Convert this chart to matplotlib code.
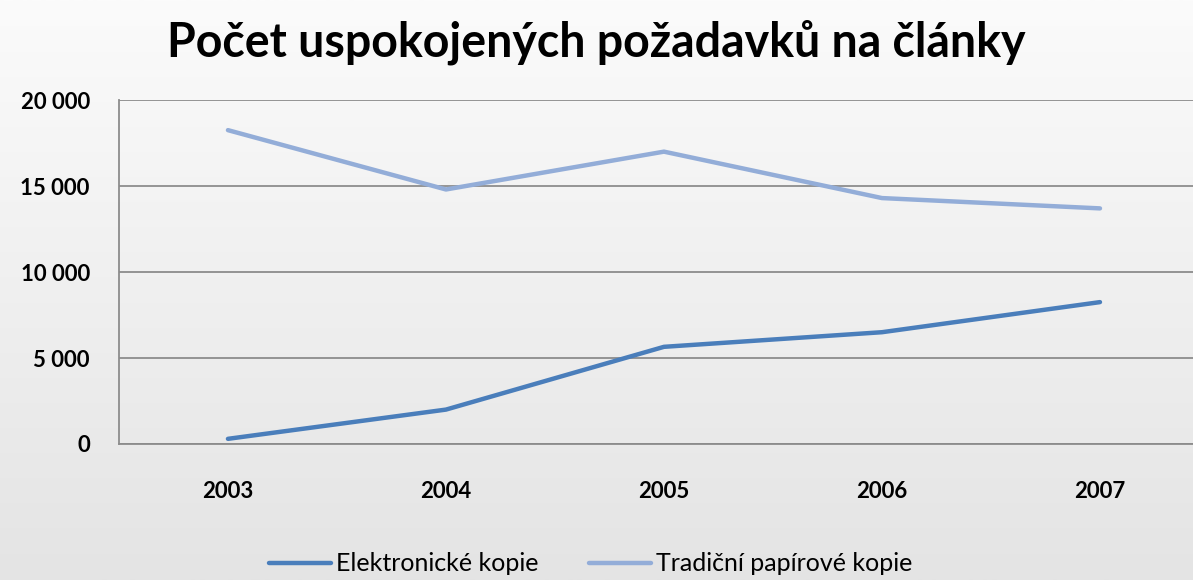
import numpy as np
import matplotlib.pyplot as plt
from matplotlib.ticker import FuncFormatter

plt.rcParams['font.family'] = ['Lato', 'DejaVu Sans']

# Data
years = ['2003', '2004', '2005', '2006', '2007']
elektronicke = [300, 2000, 5650, 6500, 8250]
papirove = [18250, 14800, 17000, 14300, 13700]

fig = plt.figure(figsize=(11.93, 5.80), dpi=100)

# Background gradient (white to light gray)
bg = fig.add_axes([0, 0, 1, 1], zorder=-1)
grad = np.linspace(0, 1, 256).reshape(-1, 1)
bg.imshow(grad, aspect='auto', cmap=plt.matplotlib.colors.LinearSegmentedColormap.from_list(
    'g', ['#fbfbfb', '#e4e4e4']), extent=[0, 1, 0, 1], origin='upper')
bg.axis('off')

ax = fig.add_axes([0.0997, 0.2345, 0.9137, 0.593])
ax.set_facecolor('none')

x = np.arange(len(years))
ax.plot(x, elektronicke, color='#4a7ebb', lw=3.2, solid_capstyle='round', label='Elektronické kopie')
ax.plot(x, papirove, color='#93add8', lw=3.2, solid_capstyle='round', label='Tradiční papírové kopie')

ax.set_xlim(-0.5, len(years) - 0.5)
ax.set_ylim(0, 20000)
ax.set_yticks([0, 5000, 10000, 15000, 20000])
ax.yaxis.set_major_formatter(FuncFormatter(lambda v, p: f'{int(v):,}'.replace(',', ' ')))
ax.set_xticks(x)
ax.set_xticklabels(years)
ax.grid(axis='y', color='#8c8c8c', lw=1.3)
ax.set_axisbelow(True)

for s in ['top', 'right']:
    ax.spines[s].set_visible(False)
ax.spines['left'].set_color('#8c8c8c')
ax.spines['left'].set_linewidth(1.3)
ax.spines['bottom'].set_color('#8c8c8c')
ax.spines['bottom'].set_linewidth(1.3)

ax.tick_params(axis='y', length=0, pad=21, labelsize=16)
ax.tick_params(axis='x', length=0, pad=27, labelsize=16)
for lab in ax.get_xticklabels() + ax.get_yticklabels():
    lab.set_fontweight('bold')

fig.text(0.5, 0.928, 'Počet uspokojených požadavků na články', ha='center', va='center',
         fontsize=33.5, fontweight='bold', color='black')

fig.legend(loc='center', bbox_to_anchor=(0.495, 0.028), ncol=2, frameon=False,
           fontsize=18, handlelength=2.5, columnspacing=2.0, handletextpad=0.2)

fig.savefig('out.png', dpi=100)
